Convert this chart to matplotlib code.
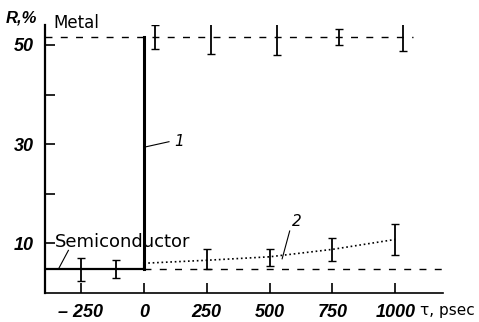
import matplotlib.pyplot as plt
import numpy as np

# data
semi_level = 4.8
metal_level = 51.6

semi_t = [-250, -110]
semi_r = [4.8, 4.8]
semi_err = [2.3, 1.8]

after_t = [0, 250, 500, 750, 1000]
after_r = [6.0, 6.6, 7.3, 8.8, 10.8]
after_pts_t = [250, 500, 750, 1000]
after_pts_r = [6.8, 7.2, 8.8, 10.8]
after_err = [2.0, 1.7, 2.3, 3.2]

metal_t = [44, 266, 528, 778, 1032]
metal_r = [51.6, 51.6, 51.6, 51.6, 51.6]
metal_err = [2.5, 3.5, 3.6, 1.7, 2.8]

xticks = [-250, 0, 250, 500, 750, 1000]
xticklabels = ["\u2013 250", "0", "250", "500", "750", "1000"]
yticks = [10, 30, 50]
yminor = [20, 40]

tickfont = ["Liberation Sans", "DejaVu Sans"]

fig = plt.figure(figsize=(4.79, 3.22), dpi=100)
ax = fig.add_axes([0.094, 0.09, 0.831, 0.832])
ax.set_xlim(-393, 1190)
ax.set_ylim(0, 54)

for s in ["top", "right"]:
    ax.spines[s].set_visible(False)
ax.spines["left"].set_linewidth(1.6)
ax.spines["bottom"].set_linewidth(1.2)

# reference levels
ax.plot([-393, 1070], [metal_level, metal_level], "k--", lw=1.0, dashes=(5, 6))
ax.plot([0, 1190], [semi_level, semi_level], "k--", lw=1.0, dashes=(5, 6))
ax.plot([-393, 0], [semi_level, semi_level], "k-", lw=1.6)

# curve 1
ax.plot([0, 0], [semi_level, metal_level], "k-", lw=2.2)
# curve 2
ax.plot([0, 0], [semi_level, after_r[0]], "k-", lw=1.5)
ax.plot(after_t, after_r, "k:", lw=1.2)

ax.errorbar(semi_t, semi_r, yerr=semi_err, fmt="none", ecolor="k",
            elinewidth=1.3, capsize=3)
ax.errorbar(after_pts_t, after_pts_r, yerr=after_err, fmt="none", ecolor="k",
            elinewidth=1.3, capsize=3)
ax.errorbar(metal_t, metal_r, yerr=metal_err, fmt="none", ecolor="k",
            elinewidth=1.3, capsize=3)

ax.set_xticks(xticks)
ax.set_xticklabels(xticklabels, fontstyle="italic", fontweight="bold",
                   fontsize=13, family=tickfont)
ax.set_yticks(yticks)
ax.set_yticklabels([str(v) for v in yticks], fontstyle="italic",
                   fontweight="bold", fontsize=13, family=tickfont)
ax.set_yticks(yminor, minor=True)
ax.tick_params(axis="both", which="both", direction="in", length=7,
               width=1.2, pad=8)
ax.tick_params(axis="y", which="minor", length=7)

# labels
ax.text(-0.06, 1.0, "R,%", transform=ax.transAxes, ha="center", va="bottom",
        fontstyle="italic", fontweight="bold", fontsize=12, family=tickfont)
ax.text(-360, 54.5, "Metal", fontsize=12, va="center")
ax.text(-352, 10.3, "Semiconductor", fontsize=13, va="center")
ax.plot([-340, -300], [semi_level, 8.6], "k-", lw=0.8)
ax.text(120, 30.5, "1", fontsize=11, fontstyle="italic", va="center")
ax.plot([2, 100], [29.4, 30.5], "k-", lw=0.8)
ax.text(590, 14.5, "2", fontsize=11, fontstyle="italic", va="center")
ax.plot([550, 580], [6.9, 12.5], "k-", lw=0.8)
ax.text(1100, -0.065, "\u03c4, psec", transform=ax.get_xaxis_transform(),
        ha="left", va="center", fontsize=11)

fig.savefig("out.png", dpi=100)
